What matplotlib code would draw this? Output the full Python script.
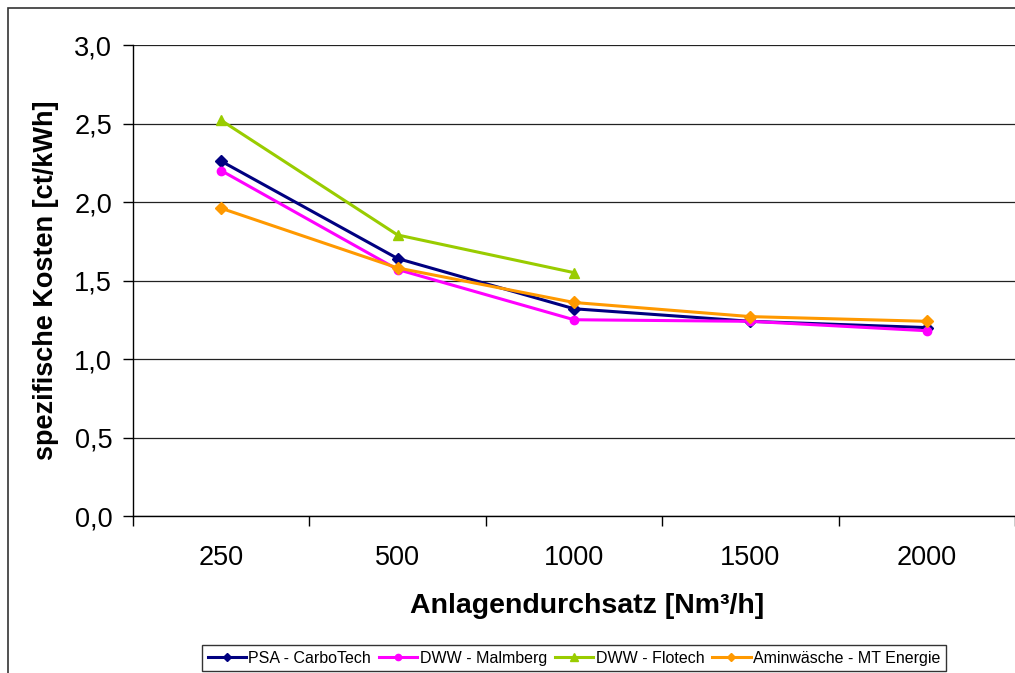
import matplotlib.pyplot as plt
from matplotlib.patches import Rectangle
import numpy as np

plt.rcParams['font.family'] = ['Liberation Sans', 'DejaVu Sans']

CATEGORIES = ['250', '500', '1000', '1500', '2000']

PSA_CARBOTECH = [2.26, 1.64, 1.32, 1.24, 1.20]
DWW_MALMBERG = [2.20, 1.57, 1.25, 1.24, 1.18]
DWW_FLOTECH = [2.52, 1.79, 1.55]
AMIN_MT = [1.96, 1.58, 1.36, 1.27, 1.24]

SERIES = [
    ('PSA - CarboTech', PSA_CARBOTECH, '#000080', 'D', 6),
    ('DWW - Malmberg', DWW_MALMBERG, '#FF00FF', 'o', 6),
    ('DWW - Flotech', DWW_FLOTECH, '#99CC00', '^', 7.5),
    ('Aminwäsche - MT Energie', AMIN_MT, '#FF9900', 'D', 6),
]

fig = plt.figure(figsize=(10.15, 6.73), dpi=100, facecolor='white')
W, H = 1015, 673

# chart frame (runs off the right and bottom edges)
fig.patches.append(Rectangle((8 / W, -0.1), 1.2, 1 - 8 / H + 0.1,
                             transform=fig.transFigure, fill=False,
                             edgecolor='#333333', linewidth=1.2))

ax = fig.add_axes([133 / W, 1 - 516 / H, 1 - 133 / W, (516 - 45) / H])

x = np.arange(len(CATEGORIES))
for label, vals, color, marker, ms in SERIES:
    ax.plot(x[:len(vals)], vals, color=color, marker=marker, markersize=ms,
            linewidth=2.2, label=label)

ax.set_xlim(-0.5, len(CATEGORIES) - 0.5)
ax.set_ylim(0, 3.0)
yt = np.arange(0, 3.01, 0.5)
ax.set_yticks(yt)
ax.set_yticklabels([f'{v:.1f}'.replace('.', ',') for v in yt])
ax.set_xticks(x)
ax.set_xticklabels(CATEGORIES)
ax.set_xticks(np.arange(-0.5, len(CATEGORIES), 1.0), minor=True)
ax.tick_params(axis='x', which='major', length=0, pad=21, labelsize=19.5)
ax.tick_params(axis='x', which='minor', length=7, width=1, direction='out')
ax.tick_params(axis='y', length=7, width=1, direction='out', pad=8,
               labelsize=19.5)

ax.grid(axis='y', color='#222222', linewidth=0.9)
ax.set_axisbelow(True)
for side in ('top', 'right'):
    ax.spines[side].set_visible(False)
for side in ('left', 'bottom'):
    ax.spines[side].set_color('black')
    ax.spines[side].set_linewidth(1.0)

ax.set_ylabel('spezifische Kosten [ct/kWh]', fontsize=19.5, fontweight='bold')
ax.yaxis.set_label_coords((59 - 133) / 882, 0.5)
ax.set_xlabel('Anlagendurchsatz [Nm³/h]', fontsize=20.5, fontweight='bold')
ax.xaxis.set_label_coords((587 - 133) / 882, (516 - 593) / 471)

leg = fig.legend(loc='upper center', bbox_to_anchor=(574 / W, 1 - 645 / H),
                 ncol=4, fontsize=11.5, frameon=True, fancybox=False,
                 edgecolor='black', handlelength=2.4, handletextpad=0.15,
                 columnspacing=0.5, borderpad=0.35, borderaxespad=0,
                 markerscale=0.75)
leg.get_frame().set_linewidth(1.0)

fig.savefig('out.png', dpi=100, facecolor='white')
